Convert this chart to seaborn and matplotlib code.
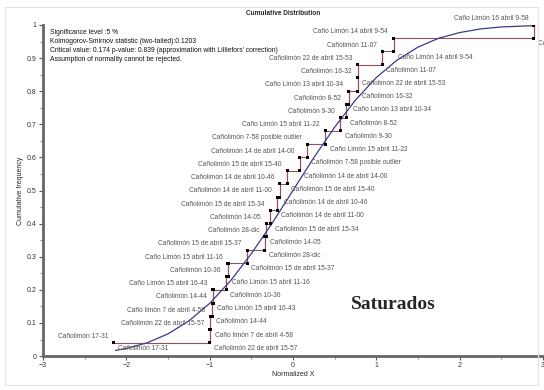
import numpy as np
import pandas as pd
import seaborn as sns
from matplotlib import pyplot as plt
from matplotlib.patches import Rectangle
from matplotlib.ticker import MultipleLocator

# sample names, sorted by normalized value
names = [
    "Cañolimón 17-31",
    "Cañolimón 22 de abril 15-57",
    "Caño limón 7 de abril 4-58",
    "Cañolimón 14-44",
    "Caño Limón 15 abril 16-43",
    "Cañolimón 10-36",
    "Caño Limón 15 abril 11-16",
    "Cañolimón 15 de abril 15-37",
    "Cañolimón 28-dic",
    "Cañolimón 14-05",
    "Cañolimón 15 de abril 15-34",
    "Cañolimón 14 de abril 11-00",
    "Cañolimón 14 de abril 10-46",
    "Cañolimón 15 de abril 15-40",
    "Cañolimón 14 de abril 14-00",
    "Cañolimón 7-58 posible outlier",
    "Caño Limón 15 abril 11-22",
    "Cañolimón 9-30",
    "Cañolimón 8-52",
    "Caño Limón 13 abril 10-34",
    "Cañolimón 16-32",
    "Cañolimón 22 de abril 15-53",
    "Cañolimón 11-07",
    "Caño Limón 14 abril 9-54",
    "Caño Limón 16 abril 9-58",
]
x_norm = [-2.15, -1.00, -0.99, -0.97, -0.96, -0.80, -0.78, -0.55, -0.34, -0.32,
          -0.27, -0.19, -0.16, -0.07, 0.08, 0.17, 0.39, 0.57, 0.64, 0.67,
          0.775, 0.78, 1.07, 1.21, 2.89]

# fitted normal curve
curve_x = [-2.13, -2.0, -1.75, -1.5, -1.25, -1.0, -0.75, -0.5, -0.25, 0.0, 0.25,
           0.5, 0.75, 1.0, 1.25, 1.5, 1.75, 2.0, 2.25, 2.5, 2.9]
curve_y = [0.017, 0.023, 0.040, 0.067, 0.106, 0.159, 0.227, 0.309, 0.401, 0.5, 0.599,
           0.691, 0.773, 0.841, 0.894, 0.933, 0.960, 0.977, 0.988, 0.994, 0.998]

stats_text = ["Significance level :5 %",
              "Kolmogorov-Smirnov statistic (two-tailed):0.1203",
              "Critical value: 0.174 p-value: 0.839 (approximation with Lilliefors' correction)",
              "Assumption of normality cannot be rejected."]

sns.set_style("white")
plt.rcParams['font.family'] = ['Liberation Sans', 'DejaVu Sans']

n = len(x_norm)
df = pd.DataFrame({"name": names, "x": x_norm})
df["top"] = (np.arange(n) + 1) / n
df["bottom"] = np.arange(n) / n
df["lab_low"] = df["bottom"].clip(lower=1 / n)

fig = plt.figure(figsize=(5.44, 3.9), dpi=100)
ax = fig.add_axes([0.079, 0.087, 0.919, 0.849])

step_color = "#94505f"
sns.lineplot(data=df, x="x", y="top", ax=ax, color=step_color, lw=0.8, sort=False,
             estimator=None, drawstyle="steps-post")
# vertical risers
for _, r in df.iloc[1:].iterrows():
    ax.plot([r["x"], r["x"]], [r["bottom"], r["top"]], color=step_color, lw=0.8)
pts = pd.concat([df[["x", "top"]].rename(columns={"top": "y"}),
                 df.iloc[1:][["x", "bottom"]].rename(columns={"bottom": "y"})])
sns.scatterplot(data=pts, x="x", y="y", ax=ax, marker="s", s=5, color="black",
                edgecolor="none", zorder=4)
sns.lineplot(x=curve_x, y=curve_y, ax=ax, color="#3a3a8c", lw=0.9, zorder=3)

lab_kw = dict(fontsize=4.8, color="#555555", textcoords="offset points")
for _, r in df.iterrows():
    ax.annotate(r["name"], (r["x"], r["top"]), xytext=(-4, 4.5), ha="right", va="center", **lab_kw)
    ax.annotate(r["name"], (r["x"], r["lab_low"]), xytext=(3, -4), ha="left", va="center",
                annotation_clip=False, **lab_kw)

for i, line in enumerate(stats_text):
    ax.text(0.014, 0.976 - i * 0.0265, line, transform=ax.transAxes, fontsize=4.9,
            va="center", ha="left", color="#111111")
ax.text(1.2, 0.155, "Saturados", fontsize=14, fontweight="bold", family="Liberation Serif",
        ha="center", va="center")

ax.set_xlim(-3, 3)
ax.set_ylim(0, 1)
ax.xaxis.set_major_locator(MultipleLocator(1))
ax.xaxis.set_minor_locator(MultipleLocator(0.5))
ax.yaxis.set_minor_locator(MultipleLocator(0.05))
ax.set_yticks(np.arange(0, 1.01, 0.1))
ax.set_yticklabels(["0", "0.1", "0.2", "0.3", "0.4", "0.5", "0.6", "0.7", "0.8", "0.9", "1"])
ax.tick_params(axis="both", which="major", labelsize=5, length=3, width=0.8, colors="#555555",
               labelcolor="#333333", pad=1.5, direction="out", left=True, bottom=True)
ax.tick_params(axis="both", which="minor", length=2, width=0.6, colors="#777777",
               direction="out", left=True, bottom=True)
for s in ["top", "right"]:
    ax.spines[s].set_visible(False)
for s in ["left", "bottom"]:
    ax.spines[s].set_color("#666666")
    ax.spines[s].set_linewidth(2)
ax.set_xlabel("Normalized X", fontsize=5, labelpad=1.5)
ax.set_ylabel("Cumulative frequency", fontsize=5, labelpad=2)
ax.set_title("Cumulative Distribution", fontsize=4.7, fontweight="bold", x=0.481, pad=7)

fig.patches.append(Rectangle((0.009, 0.013), 0.98, 0.97, transform=fig.transFigure,
                             fill=False, edgecolor="#e2e2e2", lw=0.8))

fig.savefig("out.png", dpi=100)
